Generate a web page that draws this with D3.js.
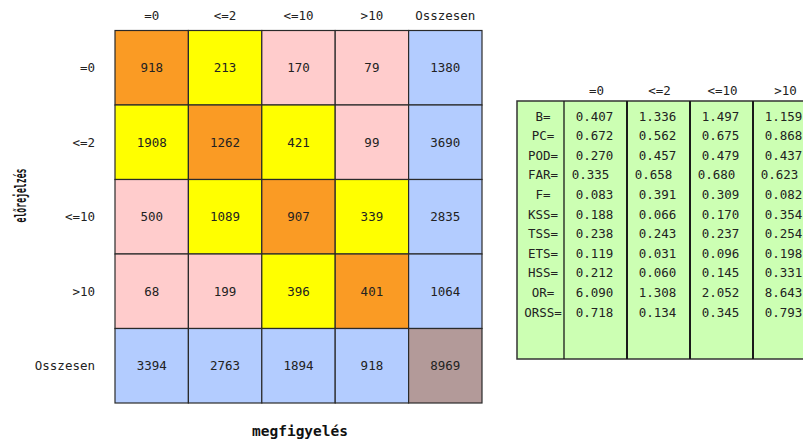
<!DOCTYPE html>
<html><head><meta charset="utf-8">
<script src="https://cdn.jsdelivr.net/npm/d3@7"></script>
<style>body{margin:0;background:#fff}svg{display:block}</style>
</head><body>
<script>
const colLabels = ["=0","<=2","<=10",">10","Osszesen"];
const rowLabels = ["=0","<=2","<=10",">10","Osszesen"];
const counts = [
  [918,213,170,79,1380],
  [1908,1262,421,99,3690],
  [500,1089,907,339,2835],
  [68,199,396,401,1064],
  [3394,2763,1894,918,8969]
];
const statNames = ["B=","PC=","POD=","FAR=","F=","KSS=","TSS=","ETS=","HSS=","OR=","ORSS="];
const statCols = ["=0","<=2","<=10",">10"];
const statVals = [
  ["0.407","0.672","0.270","0.335","0.083","0.188","0.238","0.119","0.212","6.090","0.718"],
  ["1.336","0.562","0.457","0.658","0.391","0.066","0.243","0.031","0.060","1.308","0.134"],
  ["1.497","0.675","0.479","0.680","0.309","0.170","0.237","0.096","0.145","2.052","0.345"],
  ["1.159","0.868","0.437","0.623","0.082","0.354","0.254","0.198","0.331","8.643","0.793"]
];
const xTitle = "megfigyelés", yTitle = "előrejelzés";

const W=803,H=443, FONT="'DejaVu Sans Mono', monospace";
const svg=d3.select("body").append("svg").attr("width",W).attr("height",H);

const x=d3.scaleBand().domain(colLabels).range([115,482]);
const y=d3.scaleBand().domain(rowLabels).range([30.5,403]);
const n=colLabels.length-1;
function fill(i,j){
  if(i===n&&j===n) return "#b39a99";
  if(i===n||j===n) return "#b3ccff";
  const d=Math.abs(i-j);
  return d===0?"#fa9b24":d===1?"#ffff00":"#ffcccc";
}
const cells=[];
counts.forEach((r,i)=>r.forEach((v,j)=>cells.push({i,j,v})));
const g=svg.append("g");
g.selectAll("rect").data(cells).join("rect")
 .attr("x",d=>x(colLabels[d.j])).attr("y",d=>y(rowLabels[d.i]))
 .attr("width",x.bandwidth()).attr("height",y.bandwidth())
 .attr("fill",d=>fill(d.i,d.j)).attr("stroke","#2a2a2a").attr("stroke-width",1.2);
g.selectAll("text").data(cells).join("text")
 .attr("x",d=>x(colLabels[d.j])+x.bandwidth()/2).attr("y",d=>y(rowLabels[d.i])+y.bandwidth()/2)
 .attr("text-anchor","middle").attr("dominant-baseline","central")
 .attr("font-family",FONT).attr("font-size",12.5).attr("fill","#222").text(d=>d.v);

svg.append("g").selectAll("text").data(colLabels).join("text")
 .attr("x",d=>x(d)+x.bandwidth()/2).attr("y",15).attr("text-anchor","middle").attr("dominant-baseline","central")
 .attr("font-family",FONT).attr("font-size",12.5).attr("fill","#222").text(d=>d);
svg.append("g").selectAll("text").data(rowLabels).join("text")
 .attr("x",95).attr("y",d=>y(d)+y.bandwidth()/2).attr("text-anchor","end").attr("dominant-baseline","central")
 .attr("font-family",FONT).attr("font-size",12.5).attr("fill","#222").text(d=>d);

svg.append("text").attr("x",300).attr("y",436).attr("text-anchor","middle")
 .attr("font-family",FONT).attr("font-size",14).attr("font-weight","bold").attr("fill","#111")
 .attr("textLength",96).attr("lengthAdjust","spacingAndGlyphs").text(xTitle);
svg.append("text").attr("transform","translate(26,195.5) rotate(-90)").attr("text-anchor","middle")
 .attr("font-family",FONT).attr("font-size",16).attr("font-weight","bold").attr("fill","#111")
 .attr("textLength",54).attr("lengthAdjust","spacingAndGlyphs").text(yTitle);

// stats table
const colX=c=>c==="label"?517:564+63*statCols.indexOf(c);
const colW=c=>c==="label"?47:63;
const ty=d3.scalePoint().domain(statNames).range([116,312]);
const tg=svg.append("g");
tg.append("rect").attr("x",517).attr("y",101).attr("width",W).attr("height",258)
 .attr("fill","#ccffb3").attr("stroke","#333").attr("stroke-width",1.5);
statCols.forEach(c=>{
  tg.append("line").attr("x1",colX(c)).attr("x2",colX(c)).attr("y1",101).attr("y2",359)
   .attr("stroke","#1a1a1a").attr("stroke-width",c===statCols[0]?1.3:2);
});
tg.selectAll("text.hd").data(statCols).join("text").attr("class","hd")
 .attr("x",c=>colX(c)+colW(c)/2+1).attr("y",90).attr("text-anchor","middle").attr("dominant-baseline","central")
 .attr("font-family",FONT).attr("font-size",12.5).attr("fill","#222").text(d=>d);
tg.selectAll("text.lb").data(statNames).join("text").attr("class","lb")
 .attr("x",543).attr("y",d=>ty(d)).attr("text-anchor","middle").attr("dominant-baseline","central")
 .attr("font-family",FONT).attr("font-size",12.5).attr("fill","#222").text(d=>d);
statCols.forEach((c,ci)=>{
  tg.append("g").selectAll("text").data(statVals[ci]).join("text")
   .attr("x",(d,k)=>colX(c)+colW(c)/2-1-(statNames[k]==="FAR="?4:0)).attr("y",(d,k)=>ty(statNames[k]))
   .attr("text-anchor","middle").attr("dominant-baseline","central")
   .attr("font-family",FONT).attr("font-size",12.5).attr("fill","#222").text(d=>d);
});
</script>
</body></html>
